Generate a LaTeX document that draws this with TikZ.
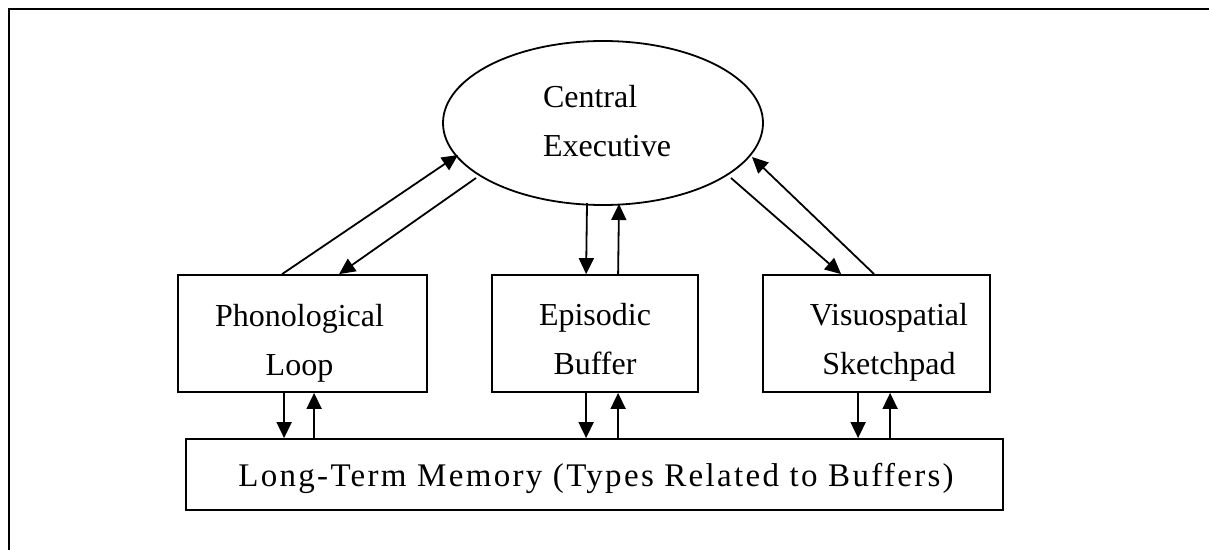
\documentclass[tikz,border=0pt]{standalone}
\usepackage{fontspec}
\setmainfont{Liberation Serif}
\usetikzlibrary{arrows.meta,calc,shapes.geometric}
\begin{document}
\begin{tikzpicture}[x=1pt,y=-1pt,
  line width=1.8pt,
  boxnode/.style={draw, rectangle, inner sep=0pt, minimum height=117pt},
  txt/.style={font=\fontsize{32}{49}\selectfont, align=center, inner sep=0pt},
  arr/.style={-{Triangle[length=16pt,width=15pt]}}]
\useasboundingbox (0,0) rectangle (1209,549);
% frame
\coordinate (ftr) at (1212,9);
\coordinate (ftl) at (9,9);
\coordinate (fbl) at (9,552);
\draw[line width=2.6pt] (ftr) -- (ftl) -- (fbl);
% nodes
\node[draw, ellipse, minimum width=320pt, minimum height=164pt, inner sep=0pt] (ce) at (603,123) {};
\node[txt, align=left] (cet) at (607,121) {Central\\Executive};
\node[boxnode, minimum width=249pt] (phon) at (302.5,333.5) {};
\node[txt] (phont) at (299.5,343) {Phonological\\Loop};
\node[boxnode, minimum width=206pt] (epi) at (595,333.5) {};
\node[txt] (epit) at (595,339) {Episodic\\Buffer};
\node[boxnode, minimum width=227pt] (vis) at (876.5,333.5) {};
\node[txt] (vist) at (889,342) {Visuospatial\\Sketchpad};
\node[draw, rectangle, inner sep=0pt, minimum width=817pt, minimum height=71pt] (ltm) at (594.5,474.5) {};
\node[txt, anchor=base, font=\fontsize{33}{49}\selectfont\addfontfeatures{LetterSpace=7}] (ltmt) at (596,486) {Long-Term Memory (Types Related to Buffers)};
% connectors to central executive
\draw[arr] ($(phon.north west)+(105,0)$) -- ($(ce.center)+(-145,32)$);
\draw[arr] ($(ce.center)+(-127,55)$) -- ($(phon.north west)+(162,0)$);
\draw[arr] ($(ce.center)+(-16,80)$) -- ($(epi.north west)+(95,0)$);
\draw[arr] ($(epi.north west)+(127,0)$) -- ($(ce.center)+(16,81)$);
\draw[arr] ($(ce.center)+(128,55)$) -- ($(vis.north west)+(79,0)$);
\draw[arr] ($(vis.north west)+(112,0)$) -- ($(ce.center)+(149,34)$);
% connectors to long-term memory
\coordinate (pd) at ($(phon.south west)+(107,0)$);
\coordinate (pu) at ($(phon.south west)+(137,0)$);
\coordinate (ed) at ($(epi.south west)+(95,0)$);
\coordinate (eu) at ($(epi.south west)+(127,0)$);
\coordinate (vd) at ($(vis.south west)+(96,0)$);
\coordinate (vu) at ($(vis.south west)+(128,0)$);
\draw[arr] (pd) -- (pd |- ltm.north);
\draw[arr] (pu |- ltm.north) -- (pu);
\draw[arr] (ed) -- (ed |- ltm.north);
\draw[arr] (eu |- ltm.north) -- (eu);
\draw[arr] (vd) -- (vd |- ltm.north);
\draw[arr] (vu |- ltm.north) -- (vu);
\end{tikzpicture}
\end{document}
